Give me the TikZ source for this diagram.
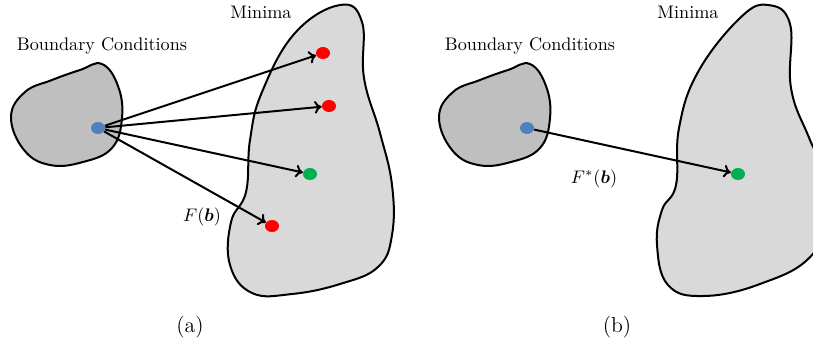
\documentclass[tikz,border=0pt]{standalone}
\usepackage{bm}
\usepackage{xcolor}
\usetikzlibrary{arrows.meta}
\usetikzlibrary{shapes.geometric}

\definecolor{bcblue}{RGB}{79,129,189}
\definecolor{minred}{RGB}{255,0,0}
\definecolor{mingreen}{RGB}{0,176,80}

\newcommand{\bcshape}{(102,64) (118,86) (122,118) (112,148) (83,162) (50,165) (24,150) (11,117) (25,92) (52,80) (80,70)}

\begin{document}
\begin{tikzpicture}[x=0.55pt,y=-0.55pt,
  bcregion/.style={draw,line width=1.1pt,fill=black!25},
  minregion/.style={draw,line width=1.1pt,fill=black!15},
  dot/.style={ellipse,inner sep=0pt,minimum width=7.7pt,minimum height=6.6pt,fill=#1},
  map/.style={-{To[length=4pt,width=7pt]},line width=1.1pt},
  caption/.style={font=\large}]
\useasboundingbox (0,0) rectangle (813,347);
\clip (0,0) rectangle (813,347);

\draw [bcregion] plot[smooth cycle,tension=0.7] coordinates {\bcshape};
\draw [minregion] plot[smooth cycle,tension=0.7] coordinates {(340,5) (362,22) (364,78) (380,133) (392,185) (392,235) (378,267) (340,284) (292,294) (252,293) (230,265) (231,222) (246,192) (250,140) (262,92) (295,33)};

\draw [bcregion,shift={(428,0)}] plot[smooth cycle,tension=0.7] coordinates {\bcshape};
\draw [minregion] plot[smooth cycle,tension=0.7] coordinates {(768,5) (790,24) (791,88) (810,140) (836,200) (812,255) (760,284) (703,296) (668,285) (657,245) (662,210) (676,185) (679,128) (698,72) (740,18)};

\node (bcA) at (102,46) {Boundary Conditions};
\node (minA) at (261,12) {Minima};
\node (bcB) at (530,46) {Boundary Conditions};
\node (minB) at (688,12) {Minima};

\node[dot=bcblue] (bA) at (98,128) {};
\node[dot=minred] (m1) at (323,53) {};
\node[dot=minred] (m2) at (329,106) {};
\node[dot=mingreen] (m3) at (310,174) {};
\node[dot=minred] (m4) at (272,226) {};

\node[dot=bcblue] (bB) at (527,128) {};
\node[dot=mingreen] (mB) at (738,174) {};

\draw [map] (bA) -- (m1);
\draw [map] (bA) -- (m2);
\draw [map] (bA) -- (m3);
\draw [map] (bA) -- (m4);
\draw [map] (bB) -- (mB);

\node (fA) at (202,217) {$F(\bm{b})$};
\node (fB) at (594,179) {$F^*(\bm{b})$};

\node[caption] (capA) at (190,327) {(a)};
\node[caption] (capB) at (617,327) {(b)};
\end{tikzpicture}
\end{document}
